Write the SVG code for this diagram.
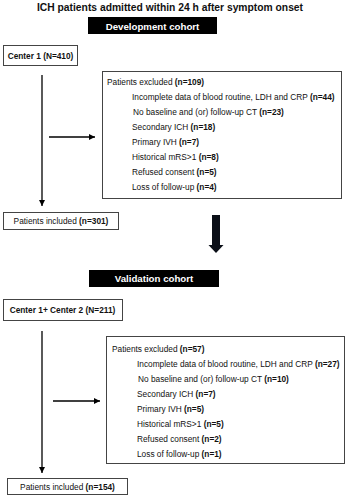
<svg xmlns="http://www.w3.org/2000/svg" width="346" height="500" viewBox="0 0 346 500">
<defs>
<style>
text{font-family:"Liberation Sans",Arial,sans-serif;fill:#111}
.t{font-size:8.3px}
.b{font-weight:bold}
.title{font-size:10.3px;font-weight:bold}
.hd{font-size:9.7px;font-weight:bold;fill:#fff}
.box{fill:#fff;stroke:#444;stroke-width:1}
.hbox{fill:#000}
.ln{stroke:#000;stroke-width:1.3;fill:none}
</style>
<marker id="ah" viewBox="0 0 10 10" refX="10" refY="5" markerWidth="6" markerHeight="6" markerUnits="userSpaceOnUse" orient="auto">
<path d="M0,0 L10,5 L0,10 z" fill="#000"/>
</marker>
</defs>
<rect width="346" height="500" fill="#fff"/>
<text class="title" x="170" y="11" text-anchor="middle">ICH patients admitted within 24 h after symptom onset</text>

<g id="dev-cohort">
<rect class="hbox" x="88" y="17" width="129" height="17"/>
<text class="hd" x="152.5" y="29.5" text-anchor="middle">Development cohort</text>
</g>
<g id="center1">
<rect class="box" x="3.5" y="45.5" width="74" height="20"/>
<text class="t b" x="40.5" y="58.5" text-anchor="middle">Center 1 (N=410)</text>
</g>
<g id="excluded1">
<rect class="box" x="102.5" y="71.5" width="239" height="127"/>
<text class="t" x="107" y="85">Patients excluded <tspan class="b">(n=109)</tspan></text>
<text class="t" x="132" y="100">Incomplete data of blood routine, LDH and CRP <tspan class="b">(n=44)</tspan></text>
<text class="t" x="133" y="115">No baseline and (or) follow-up CT <tspan class="b">(n=23)</tspan></text>
<text class="t" x="132" y="130">Secondary ICH <tspan class="b">(n=18)</tspan></text>
<text class="t" x="132" y="145">Primary IVH <tspan class="b">(n=7)</tspan></text>
<text class="t" x="132" y="160">Historical mRS&gt;1 <tspan class="b">(n=8)</tspan></text>
<text class="t" x="132" y="175">Refused consent <tspan class="b">(n=5)</tspan></text>
<text class="t" x="132" y="190">Loss of follow-up <tspan class="b">(n=4)</tspan></text>
</g>
<g id="included1">
<rect class="box" x="3.5" y="212.5" width="115" height="17"/>
<text class="t" x="61" y="224" text-anchor="middle">Patients included <tspan class="b">(n=301)</tspan></text>
</g>

<g id="val-cohort">
<rect class="hbox" x="89" y="270" width="130" height="17"/>
<text class="hd" x="154" y="282.3" text-anchor="middle">Validation cohort</text>
</g>
<g id="center12">
<rect class="box" x="3.5" y="299.5" width="119" height="21"/>
<text class="t b" x="62.5" y="313" text-anchor="middle">Center 1+ Center 2 (N=211)</text>
</g>
<g id="excluded2">
<rect class="box" x="106.5" y="336.5" width="238" height="127"/>
<text class="t" x="112" y="352">Patients excluded <tspan class="b">(n=57)</tspan></text>
<text class="t" x="137" y="367">Incomplete data of blood routine, LDH and CRP <tspan class="b">(n=27)</tspan></text>
<text class="t" x="138" y="382">No baseline and (or) follow-up CT <tspan class="b">(n=10)</tspan></text>
<text class="t" x="137" y="397">Secondary ICH <tspan class="b">(n=7)</tspan></text>
<text class="t" x="137" y="412">Primary IVH <tspan class="b">(n=5)</tspan></text>
<text class="t" x="137" y="427">Historical mRS&gt;1 <tspan class="b">(n=5)</tspan></text>
<text class="t" x="137" y="442">Refused consent <tspan class="b">(n=2)</tspan></text>
<text class="t" x="137" y="457">Loss of follow-up <tspan class="b">(n=1)</tspan></text>
</g>
<g id="included2">
<rect class="box" x="7.5" y="478.5" width="120" height="16"/>
<text class="t" x="67.5" y="489.5" text-anchor="middle">Patients included <tspan class="b">(n=154)</tspan></text>
</g>

<g id="connectors">
<line class="ln" x1="42" y1="75" x2="42" y2="206" marker-end="url(#ah)"/>
<line class="ln" x1="49" y1="137" x2="95" y2="137" marker-end="url(#ah)"/>
<line class="ln" x1="42" y1="331" x2="42" y2="473" marker-end="url(#ah)"/>
<line class="ln" x1="53" y1="401" x2="100" y2="401" marker-end="url(#ah)"/>
<path d="M212,215 H220 V245 H223.5 L216,253 L208.5,245 H212 Z" fill="#0b0f18"/>
</g>
</svg>
